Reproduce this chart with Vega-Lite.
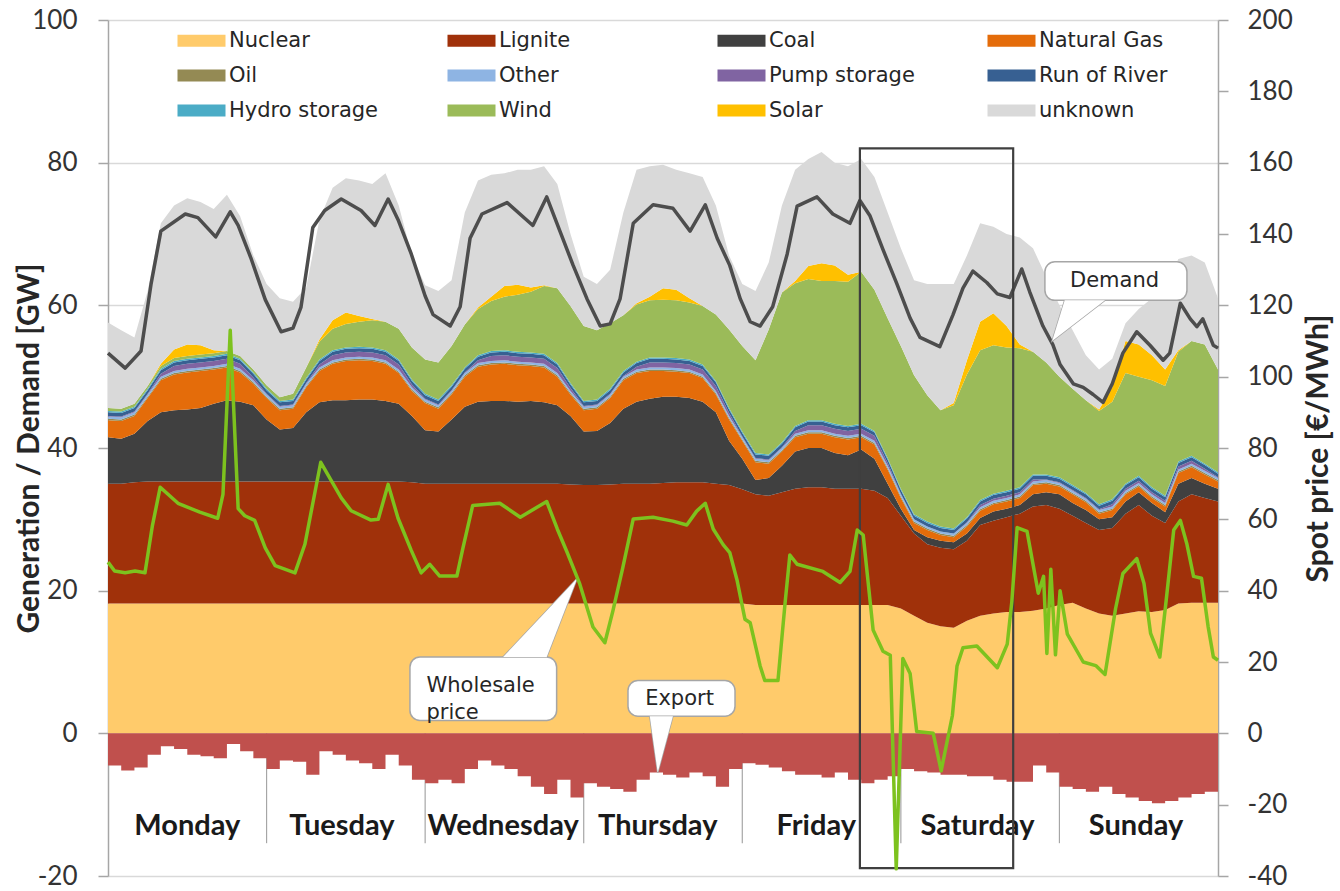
{
  "$schema": "https://vega.github.io/schema/vega-lite/v6.json",
  "width": 1110,
  "height": 856,
  "autosize": {"type": "none"},
  "padding": {"left": 108, "top": 20, "right": 122, "bottom": 15},
  "background": "#ffffff",
  "config": {"view": {"stroke": null}},
  "datasets": {
    "ranks": [
      {"key": "Nuclear", "rank": 1}, {"key": "Lignite", "rank": 2}, {"key": "Coal", "rank": 3},
      {"key": "Natural Gas", "rank": 4}, {"key": "Oil", "rank": 5}, {"key": "Other", "rank": 6},
      {"key": "Pump storage", "rank": 7}, {"key": "Run of River", "rank": 8}, {"key": "Hydro storage", "rank": 9},
      {"key": "Wind", "rank": 10}, {"key": "Solar", "rank": 11}, {"key": "unknown", "rank": 12}
    ],
    "gen": [
      {"h":0,"Nuclear":18.2,"Lignite":16.8,"Coal":6.5,"Natural Gas":2.4,"Oil":0.2,"Other":0.3,"Pump storage":0.1,"Run of River":0.5,"Hydro storage":0.2,"Wind":0.4,"Solar":0,"unknown":12.0,"export":-4.5},
      {"h":2,"Nuclear":18.2,"Lignite":16.8,"Coal":6.3,"Natural Gas":2.5,"Oil":0.2,"Other":0.3,"Pump storage":0.1,"Run of River":0.5,"Hydro storage":0.2,"Wind":0.4,"Solar":0,"unknown":11.0,"export":-5.2},
      {"h":4,"Nuclear":18.2,"Lignite":17.0,"Coal":6.8,"Natural Gas":2.5,"Oil":0.2,"Other":0.3,"Pump storage":0.1,"Run of River":0.5,"Hydro storage":0.2,"Wind":0.4,"Solar":0,"unknown":9.3,"export":-4.8},
      {"h":6,"Nuclear":18.2,"Lignite":17.1,"Coal":8.5,"Natural Gas":3.2,"Oil":0.2,"Other":0.3,"Pump storage":0.1,"Run of River":0.5,"Hydro storage":0.2,"Wind":0.4,"Solar":0,"unknown":13.3,"export":-3.0},
      {"h":8,"Nuclear":18.2,"Lignite":17.1,"Coal":9.7,"Natural Gas":4.5,"Oil":0.2,"Other":0.3,"Pump storage":0.4,"Run of River":0.5,"Hydro storage":0.2,"Wind":0.4,"Solar":0.3,"unknown":19.7,"export":-1.8},
      {"h":10,"Nuclear":18.2,"Lignite":17.1,"Coal":10.0,"Natural Gas":5.0,"Oil":0.2,"Other":0.3,"Pump storage":0.7,"Run of River":0.5,"Hydro storage":0.2,"Wind":0.4,"Solar":1.2,"unknown":20.2,"export":-2.2},
      {"h":12,"Nuclear":18.2,"Lignite":17.1,"Coal":10.1,"Natural Gas":5.2,"Oil":0.2,"Other":0.3,"Pump storage":0.7,"Run of River":0.5,"Hydro storage":0.2,"Wind":0.4,"Solar":1.6,"unknown":20.5,"export":-3.0},
      {"h":14,"Nuclear":18.2,"Lignite":17.1,"Coal":10.3,"Natural Gas":5.2,"Oil":0.2,"Other":0.3,"Pump storage":0.7,"Run of River":0.5,"Hydro storage":0.2,"Wind":0.4,"Solar":1.3,"unknown":20.1,"export":-3.2},
      {"h":16,"Nuclear":18.2,"Lignite":17.1,"Coal":10.9,"Natural Gas":4.8,"Oil":0.2,"Other":0.3,"Pump storage":0.7,"Run of River":0.5,"Hydro storage":0.2,"Wind":0.4,"Solar":0.4,"unknown":19.8,"export":-3.5},
      {"h":18,"Nuclear":18.2,"Lignite":17.1,"Coal":11.4,"Natural Gas":4.6,"Oil":0.2,"Other":0.3,"Pump storage":0.7,"Run of River":0.5,"Hydro storage":0.2,"Wind":0.4,"Solar":0,"unknown":21.9,"export":-1.5},
      {"h":20,"Nuclear":18.2,"Lignite":17.1,"Coal":11.2,"Natural Gas":4.1,"Oil":0.2,"Other":0.3,"Pump storage":0.7,"Run of River":0.5,"Hydro storage":0.2,"Wind":0.4,"Solar":0,"unknown":19.6,"export":-2.5},
      {"h":22,"Nuclear":18.2,"Lignite":17.1,"Coal":10.7,"Natural Gas":3.0,"Oil":0.2,"Other":0.3,"Pump storage":0.4,"Run of River":0.5,"Hydro storage":0.2,"Wind":0.4,"Solar":0,"unknown":16.0,"export":-3.5},
      {"h":24,"Nuclear":18.2,"Lignite":17.1,"Coal":8.7,"Natural Gas":3.0,"Oil":0.2,"Other":0.3,"Pump storage":0.1,"Run of River":0.5,"Hydro storage":0.2,"Wind":0.5,"Solar":0,"unknown":14.2,"export":-5.0},
      {"h":26,"Nuclear":18.2,"Lignite":17.1,"Coal":7.3,"Natural Gas":2.7,"Oil":0.2,"Other":0.3,"Pump storage":0.1,"Run of River":0.5,"Hydro storage":0.2,"Wind":0.5,"Solar":0,"unknown":13.9,"export":-3.8},
      {"h":28,"Nuclear":18.2,"Lignite":17.1,"Coal":7.5,"Natural Gas":2.7,"Oil":0.2,"Other":0.3,"Pump storage":0.1,"Run of River":0.5,"Hydro storage":0.2,"Wind":0.8,"Solar":0,"unknown":12.9,"export":-4.0},
      {"h":30,"Nuclear":18.2,"Lignite":17.1,"Coal":9.7,"Natural Gas":3.5,"Oil":0.2,"Other":0.3,"Pump storage":0.1,"Run of River":0.5,"Hydro storage":0.2,"Wind":1.5,"Solar":0,"unknown":11.2,"export":-5.8},
      {"h":32,"Nuclear":18.2,"Lignite":17.1,"Coal":11.1,"Natural Gas":4.4,"Oil":0.2,"Other":0.3,"Pump storage":0.4,"Run of River":0.5,"Hydro storage":0.2,"Wind":2.5,"Solar":0.3,"unknown":16.8,"export":-2.5},
      {"h":34,"Nuclear":18.2,"Lignite":17.1,"Coal":11.4,"Natural Gas":5.1,"Oil":0.2,"Other":0.3,"Pump storage":0.7,"Run of River":0.5,"Hydro storage":0.2,"Wind":3.0,"Solar":1.2,"unknown":18.6,"export":-3.0},
      {"h":36,"Nuclear":18.2,"Lignite":17.1,"Coal":11.4,"Natural Gas":5.5,"Oil":0.2,"Other":0.3,"Pump storage":0.7,"Run of River":0.5,"Hydro storage":0.2,"Wind":3.3,"Solar":1.6,"unknown":18.8,"export":-3.8},
      {"h":38,"Nuclear":18.2,"Lignite":17.1,"Coal":11.5,"Natural Gas":5.5,"Oil":0.2,"Other":0.3,"Pump storage":0.7,"Run of River":0.5,"Hydro storage":0.2,"Wind":3.5,"Solar":0.8,"unknown":19.0,"export":-4.2},
      {"h":40,"Nuclear":18.2,"Lignite":17.1,"Coal":11.5,"Natural Gas":5.4,"Oil":0.2,"Other":0.3,"Pump storage":0.7,"Run of River":0.5,"Hydro storage":0.2,"Wind":3.8,"Solar":0.2,"unknown":18.9,"export":-5.0},
      {"h":42,"Nuclear":18.2,"Lignite":17.1,"Coal":11.3,"Natural Gas":5.2,"Oil":0.2,"Other":0.3,"Pump storage":0.7,"Run of River":0.5,"Hydro storage":0.2,"Wind":4.0,"Solar":0,"unknown":20.8,"export":-3.0},
      {"h":44,"Nuclear":18.2,"Lignite":17.1,"Coal":10.9,"Natural Gas":4.3,"Oil":0.2,"Other":0.3,"Pump storage":0.7,"Run of River":0.5,"Hydro storage":0.2,"Wind":4.3,"Solar":0,"unknown":17.3,"export":-4.5},
      {"h":46,"Nuclear":18.2,"Lignite":17.0,"Coal":9.3,"Natural Gas":3.5,"Oil":0.2,"Other":0.3,"Pump storage":0.4,"Run of River":0.5,"Hydro storage":0.2,"Wind":4.5,"Solar":0,"unknown":12.9,"export":-6.5},
      {"h":48,"Nuclear":18.2,"Lignite":16.8,"Coal":7.5,"Natural Gas":3.8,"Oil":0.2,"Other":0.3,"Pump storage":0.1,"Run of River":0.5,"Hydro storage":0.2,"Wind":4.8,"Solar":0,"unknown":10.4,"export":-7.0},
      {"h":50,"Nuclear":18.2,"Lignite":16.8,"Coal":7.3,"Natural Gas":3.2,"Oil":0.2,"Other":0.3,"Pump storage":0.1,"Run of River":0.5,"Hydro storage":0.2,"Wind":5.2,"Solar":0,"unknown":10.0,"export":-6.5},
      {"h":52,"Nuclear":18.2,"Lignite":16.8,"Coal":9.0,"Natural Gas":3.5,"Oil":0.2,"Other":0.3,"Pump storage":0.1,"Run of River":0.5,"Hydro storage":0.2,"Wind":5.5,"Solar":0,"unknown":9.2,"export":-7.0},
      {"h":54,"Nuclear":18.2,"Lignite":16.8,"Coal":10.8,"Natural Gas":4.2,"Oil":0.2,"Other":0.3,"Pump storage":0.1,"Run of River":0.5,"Hydro storage":0.2,"Wind":6.0,"Solar":0,"unknown":15.7,"export":-5.0},
      {"h":56,"Nuclear":18.2,"Lignite":16.8,"Coal":11.5,"Natural Gas":4.9,"Oil":0.2,"Other":0.3,"Pump storage":0.4,"Run of River":0.5,"Hydro storage":0.2,"Wind":6.5,"Solar":0.2,"unknown":17.8,"export":-3.8},
      {"h":58,"Nuclear":18.2,"Lignite":16.8,"Coal":11.6,"Natural Gas":5.1,"Oil":0.2,"Other":0.3,"Pump storage":0.7,"Run of River":0.5,"Hydro storage":0.2,"Wind":7.0,"Solar":0.6,"unknown":17.1,"export":-4.5},
      {"h":60,"Nuclear":18.2,"Lignite":16.8,"Coal":11.6,"Natural Gas":5.2,"Oil":0.2,"Other":0.3,"Pump storage":0.7,"Run of River":0.5,"Hydro storage":0.2,"Wind":7.5,"Solar":1.5,"unknown":15.8,"export":-5.0},
      {"h":62,"Nuclear":18.2,"Lignite":16.8,"Coal":11.5,"Natural Gas":5.1,"Oil":0.2,"Other":0.3,"Pump storage":0.7,"Run of River":0.5,"Hydro storage":0.2,"Wind":8.0,"Solar":1.4,"unknown":16.1,"export":-6.0},
      {"h":64,"Nuclear":18.2,"Lignite":16.8,"Coal":11.6,"Natural Gas":4.9,"Oil":0.2,"Other":0.3,"Pump storage":0.7,"Run of River":0.5,"Hydro storage":0.2,"Wind":8.5,"Solar":0.6,"unknown":16.5,"export":-7.5},
      {"h":66,"Nuclear":18.2,"Lignite":16.8,"Coal":11.4,"Natural Gas":4.9,"Oil":0.2,"Other":0.3,"Pump storage":0.7,"Run of River":0.5,"Hydro storage":0.2,"Wind":9.5,"Solar":0.1,"unknown":16.7,"export":-8.5},
      {"h":68,"Nuclear":18.2,"Lignite":16.8,"Coal":11.0,"Natural Gas":4.0,"Oil":0.2,"Other":0.3,"Pump storage":0.7,"Run of River":0.5,"Hydro storage":0.2,"Wind":10.5,"Solar":0,"unknown":14.6,"export":-6.5},
      {"h":70,"Nuclear":18.2,"Lignite":16.7,"Coal":9.6,"Natural Gas":3.0,"Oil":0.2,"Other":0.3,"Pump storage":0.4,"Run of River":0.5,"Hydro storage":0.2,"Wind":10.8,"Solar":0,"unknown":10.1,"export":-9.0},
      {"h":72,"Nuclear":18.2,"Lignite":16.6,"Coal":7.5,"Natural Gas":3.0,"Oil":0.2,"Other":0.3,"Pump storage":0.1,"Run of River":0.5,"Hydro storage":0.2,"Wind":10.5,"Solar":0,"unknown":6.9,"export":-7.0},
      {"h":74,"Nuclear":18.2,"Lignite":16.6,"Coal":7.6,"Natural Gas":3.1,"Oil":0.2,"Other":0.3,"Pump storage":0.1,"Run of River":0.5,"Hydro storage":0.2,"Wind":9.7,"Solar":0,"unknown":6.5,"export":-7.5},
      {"h":76,"Nuclear":18.2,"Lignite":16.7,"Coal":8.6,"Natural Gas":3.5,"Oil":0.2,"Other":0.3,"Pump storage":0.1,"Run of River":0.5,"Hydro storage":0.2,"Wind":9.2,"Solar":0,"unknown":7.5,"export":-7.8},
      {"h":78,"Nuclear":18.2,"Lignite":16.8,"Coal":10.5,"Natural Gas":4.0,"Oil":0.2,"Other":0.3,"Pump storage":0.1,"Run of River":0.5,"Hydro storage":0.2,"Wind":7.8,"Solar":0,"unknown":14.4,"export":-8.2},
      {"h":80,"Nuclear":18.2,"Lignite":16.8,"Coal":11.5,"Natural Gas":4.0,"Oil":0.2,"Other":0.3,"Pump storage":0.4,"Run of River":0.5,"Hydro storage":0.2,"Wind":8.0,"Solar":0.2,"unknown":18.7,"export":-6.5},
      {"h":82,"Nuclear":18.2,"Lignite":16.8,"Coal":11.9,"Natural Gas":3.9,"Oil":0.2,"Other":0.3,"Pump storage":0.7,"Run of River":0.5,"Hydro storage":0.2,"Wind":8.0,"Solar":0.5,"unknown":18.3,"export":-5.5},
      {"h":84,"Nuclear":18.2,"Lignite":16.9,"Coal":12.1,"Natural Gas":3.6,"Oil":0.2,"Other":0.3,"Pump storage":0.7,"Run of River":0.5,"Hydro storage":0.2,"Wind":8.1,"Solar":1.6,"unknown":17.3,"export":-5.8},
      {"h":86,"Nuclear":18.2,"Lignite":17.0,"Coal":12.0,"Natural Gas":3.5,"Oil":0.2,"Other":0.3,"Pump storage":0.7,"Run of River":0.5,"Hydro storage":0.2,"Wind":8.1,"Solar":1.5,"unknown":16.8,"export":-6.2},
      {"h":88,"Nuclear":18.2,"Lignite":17.0,"Coal":11.8,"Natural Gas":3.5,"Oil":0.2,"Other":0.3,"Pump storage":0.7,"Run of River":0.5,"Hydro storage":0.2,"Wind":8.0,"Solar":0.6,"unknown":17.5,"export":-5.5},
      {"h":90,"Nuclear":18.2,"Lignite":17.0,"Coal":11.3,"Natural Gas":3.3,"Oil":0.2,"Other":0.3,"Pump storage":0.7,"Run of River":0.5,"Hydro storage":0.2,"Wind":8.2,"Solar":0,"unknown":18.1,"export":-6.0},
      {"h":92,"Nuclear":18.2,"Lignite":16.8,"Coal":10.0,"Natural Gas":2.5,"Oil":0.2,"Other":0.3,"Pump storage":0.7,"Run of River":0.5,"Hydro storage":0.2,"Wind":9.3,"Solar":0,"unknown":15.3,"export":-7.5},
      {"h":94,"Nuclear":18.2,"Lignite":16.6,"Coal":6.2,"Natural Gas":3.0,"Oil":0.2,"Other":0.3,"Pump storage":0.4,"Run of River":0.5,"Hydro storage":0.2,"Wind":11.0,"Solar":0,"unknown":10.4,"export":-5.0},
      {"h":96,"Nuclear":18.2,"Lignite":16.0,"Coal":4.3,"Natural Gas":2.5,"Oil":0.2,"Other":0.3,"Pump storage":0.1,"Run of River":0.5,"Hydro storage":0.2,"Wind":12.0,"Solar":0,"unknown":8.7,"export":-4.2},
      {"h":98,"Nuclear":18.0,"Lignite":15.5,"Coal":2.0,"Natural Gas":2.5,"Oil":0.2,"Other":0.3,"Pump storage":0.1,"Run of River":0.5,"Hydro storage":0.2,"Wind":13.0,"Solar":0,"unknown":9.7,"export":-4.4},
      {"h":100,"Nuclear":18.0,"Lignite":15.3,"Coal":2.5,"Natural Gas":2.0,"Oil":0.2,"Other":0.3,"Pump storage":0.1,"Run of River":0.5,"Hydro storage":0.2,"Wind":17.5,"Solar":0,"unknown":9.4,"export":-4.8},
      {"h":102,"Nuclear":18.0,"Lignite":15.8,"Coal":3.7,"Natural Gas":2.0,"Oil":0.2,"Other":0.3,"Pump storage":0.1,"Run of River":0.5,"Hydro storage":0.2,"Wind":21.0,"Solar":0,"unknown":12.2,"export":-5.3},
      {"h":104,"Nuclear":18.0,"Lignite":16.3,"Coal":5.2,"Natural Gas":2.0,"Oil":0.2,"Other":0.3,"Pump storage":0.4,"Run of River":0.5,"Hydro storage":0.2,"Wind":20.0,"Solar":0.3,"unknown":15.6,"export":-5.8},
      {"h":106,"Nuclear":18.0,"Lignite":16.5,"Coal":5.5,"Natural Gas":2.0,"Oil":0.2,"Other":0.3,"Pump storage":0.7,"Run of River":0.5,"Hydro storage":0.2,"Wind":19.8,"Solar":1.8,"unknown":15.0,"export":-5.8},
      {"h":108,"Nuclear":18.0,"Lignite":16.5,"Coal":5.5,"Natural Gas":2.0,"Oil":0.2,"Other":0.3,"Pump storage":0.7,"Run of River":0.5,"Hydro storage":0.2,"Wind":19.5,"Solar":2.5,"unknown":15.6,"export":-6.2},
      {"h":110,"Nuclear":18.0,"Lignite":16.3,"Coal":5.0,"Natural Gas":2.2,"Oil":0.2,"Other":0.3,"Pump storage":0.7,"Run of River":0.5,"Hydro storage":0.2,"Wind":20.0,"Solar":2.2,"unknown":14.4,"export":-5.5},
      {"h":112,"Nuclear":18.0,"Lignite":16.3,"Coal":4.7,"Natural Gas":2.2,"Oil":0.2,"Other":0.3,"Pump storage":0.7,"Run of River":0.5,"Hydro storage":0.2,"Wind":20.2,"Solar":1.0,"unknown":15.2,"export":-6.5},
      {"h":114,"Nuclear":18.0,"Lignite":16.3,"Coal":5.5,"Natural Gas":1.7,"Oil":0.2,"Other":0.3,"Pump storage":0.7,"Run of River":0.5,"Hydro storage":0.2,"Wind":21.3,"Solar":0,"unknown":15.8,"export":-7.0},
      {"h":116,"Nuclear":18.0,"Lignite":16.0,"Coal":4.5,"Natural Gas":2.0,"Oil":0.2,"Other":0.3,"Pump storage":0.7,"Run of River":0.5,"Hydro storage":0.2,"Wind":19.8,"Solar":0,"unknown":15.8,"export":-6.5},
      {"h":118,"Nuclear":18.0,"Lignite":15.0,"Coal":2.0,"Natural Gas":2.0,"Oil":0.2,"Other":0.3,"Pump storage":0.4,"Run of River":0.5,"Hydro storage":0.2,"Wind":19.6,"Solar":0,"unknown":14.8,"export":-6.0},
      {"h":120,"Nuclear":17.5,"Lignite":13.0,"Coal":1.0,"Natural Gas":1.5,"Oil":0.2,"Other":0.3,"Pump storage":0.1,"Run of River":0.5,"Hydro storage":0.2,"Wind":20.0,"Solar":0,"unknown":13.7,"export":-5.0},
      {"h":122,"Nuclear":16.5,"Lignite":11.5,"Coal":0.5,"Natural Gas":1.0,"Oil":0.2,"Other":0.3,"Pump storage":0.0,"Run of River":0.5,"Hydro storage":0.2,"Wind":19.5,"Solar":0,"unknown":13.3,"export":-5.3},
      {"h":124,"Nuclear":15.5,"Lignite":11.0,"Coal":1.0,"Natural Gas":1.0,"Oil":0.2,"Other":0.3,"Pump storage":0.0,"Run of River":0.5,"Hydro storage":0.2,"Wind":17.7,"Solar":0,"unknown":15.6,"export":-5.5},
      {"h":126,"Nuclear":15.0,"Lignite":11.0,"Coal":1.0,"Natural Gas":0.8,"Oil":0.2,"Other":0.3,"Pump storage":0.0,"Run of River":0.5,"Hydro storage":0.2,"Wind":16.3,"Solar":0,"unknown":17.7,"export":-5.8},
      {"h":128,"Nuclear":14.8,"Lignite":11.0,"Coal":1.0,"Natural Gas":0.7,"Oil":0.2,"Other":0.3,"Pump storage":0.0,"Run of River":0.5,"Hydro storage":0.2,"Wind":17.3,"Solar":0.3,"unknown":16.7,"export":-5.8},
      {"h":130,"Nuclear":15.8,"Lignite":11.2,"Coal":1.0,"Natural Gas":1.0,"Oil":0.2,"Other":0.3,"Pump storage":0.1,"Run of River":0.5,"Hydro storage":0.2,"Wind":20.0,"Solar":2.0,"unknown":14.7,"export":-6.0},
      {"h":132,"Nuclear":16.5,"Lignite":12.7,"Coal":1.0,"Natural Gas":1.0,"Oil":0.2,"Other":0.3,"Pump storage":0.3,"Run of River":0.5,"Hydro storage":0.2,"Wind":21.0,"Solar":4.0,"unknown":13.8,"export":-6.0},
      {"h":134,"Nuclear":16.8,"Lignite":13.0,"Coal":1.3,"Natural Gas":1.0,"Oil":0.2,"Other":0.3,"Pump storage":0.3,"Run of River":0.5,"Hydro storage":0.2,"Wind":20.8,"Solar":4.5,"unknown":12.1,"export":-6.5},
      {"h":136,"Nuclear":17.0,"Lignite":13.3,"Coal":1.2,"Natural Gas":1.0,"Oil":0.2,"Other":0.3,"Pump storage":0.3,"Run of River":0.5,"Hydro storage":0.2,"Wind":20.1,"Solar":3.0,"unknown":12.9,"export":-6.8},
      {"h":138,"Nuclear":17.0,"Lignite":13.8,"Coal":1.2,"Natural Gas":1.0,"Oil":0.2,"Other":0.3,"Pump storage":0.3,"Run of River":0.5,"Hydro storage":0.2,"Wind":19.5,"Solar":0.5,"unknown":15.0,"export":-6.8},
      {"h":140,"Nuclear":17.2,"Lignite":14.6,"Coal":1.7,"Natural Gas":1.3,"Oil":0.2,"Other":0.3,"Pump storage":0.3,"Run of River":0.5,"Hydro storage":0.2,"Wind":17.2,"Solar":0,"unknown":14.5,"export":-4.5},
      {"h":142,"Nuclear":17.5,"Lignite":14.5,"Coal":1.8,"Natural Gas":1.2,"Oil":0.2,"Other":0.3,"Pump storage":0.1,"Run of River":0.5,"Hydro storage":0.2,"Wind":15.7,"Solar":0,"unknown":12.0,"export":-5.5},
      {"h":144,"Nuclear":18.0,"Lignite":13.5,"Coal":2.0,"Natural Gas":1.1,"Oil":0.2,"Other":0.3,"Pump storage":0.1,"Run of River":0.5,"Hydro storage":0.2,"Wind":14.1,"Solar":0,"unknown":10.0,"export":-7.5},
      {"h":146,"Nuclear":18.3,"Lignite":12.2,"Coal":1.8,"Natural Gas":1.2,"Oil":0.2,"Other":0.3,"Pump storage":0.1,"Run of River":0.5,"Hydro storage":0.2,"Wind":13.5,"Solar":0,"unknown":8.2,"export":-7.8},
      {"h":148,"Nuclear":17.5,"Lignite":12.0,"Coal":1.8,"Natural Gas":1.1,"Oil":0.2,"Other":0.3,"Pump storage":0.1,"Run of River":0.5,"Hydro storage":0.2,"Wind":13.0,"Solar":0,"unknown":6.3,"export":-8.2},
      {"h":150,"Nuclear":16.8,"Lignite":11.7,"Coal":1.5,"Natural Gas":0.8,"Oil":0.2,"Other":0.3,"Pump storage":0.1,"Run of River":0.5,"Hydro storage":0.2,"Wind":13.1,"Solar":0.2,"unknown":5.6,"export":-7.5},
      {"h":152,"Nuclear":16.5,"Lignite":12.3,"Coal":1.5,"Natural Gas":1.0,"Oil":0.2,"Other":0.3,"Pump storage":0.3,"Run of River":0.5,"Hydro storage":0.2,"Wind":13.7,"Solar":2.0,"unknown":4.0,"export":-8.5},
      {"h":154,"Nuclear":16.8,"Lignite":14.0,"Coal":1.7,"Natural Gas":1.0,"Oil":0.2,"Other":0.3,"Pump storage":0.3,"Run of River":0.5,"Hydro storage":0.2,"Wind":15.5,"Solar":4.5,"unknown":2.5,"export":-9.0},
      {"h":156,"Nuclear":17.1,"Lignite":14.9,"Coal":1.8,"Natural Gas":0.8,"Oil":0.2,"Other":0.3,"Pump storage":0.3,"Run of River":0.5,"Hydro storage":0.2,"Wind":13.9,"Solar":4.5,"unknown":5.0,"export":-9.5},
      {"h":158,"Nuclear":17.0,"Lignite":13.5,"Coal":1.8,"Natural Gas":0.7,"Oil":0.2,"Other":0.3,"Pump storage":0.3,"Run of River":0.5,"Hydro storage":0.2,"Wind":15.0,"Solar":3.5,"unknown":8.0,"export":-9.8},
      {"h":160,"Nuclear":17.3,"Lignite":12.2,"Coal":1.5,"Natural Gas":0.8,"Oil":0.2,"Other":0.3,"Pump storage":0.3,"Run of River":0.5,"Hydro storage":0.2,"Wind":15.4,"Solar":2.3,"unknown":11.5,"export":-9.5},
      {"h":162,"Nuclear":18.2,"Lignite":14.3,"Coal":2.5,"Natural Gas":1.5,"Oil":0.2,"Other":0.3,"Pump storage":0.4,"Run of River":0.5,"Hydro storage":0.2,"Wind":15.4,"Solar":0.2,"unknown":12.8,"export":-9.0},
      {"h":164,"Nuclear":18.3,"Lignite":15.2,"Coal":2.3,"Natural Gas":1.5,"Oil":0.2,"Other":0.3,"Pump storage":0.4,"Run of River":0.5,"Hydro storage":0.2,"Wind":16.1,"Solar":0,"unknown":12.0,"export":-8.5},
      {"h":166,"Nuclear":18.3,"Lignite":14.7,"Coal":2.0,"Natural Gas":1.3,"Oil":0.2,"Other":0.3,"Pump storage":0.3,"Run of River":0.5,"Hydro storage":0.2,"Wind":16.7,"Solar":0,"unknown":11.5,"export":-8.2},
      {"h":168,"Nuclear":18.3,"Lignite":14.2,"Coal":1.8,"Natural Gas":1.0,"Oil":0.2,"Other":0.3,"Pump storage":0.1,"Run of River":0.5,"Hydro storage":0.2,"Wind":14.4,"Solar":0,"unknown":10.0,"export":-8.0}
    ],
    "demand": [
      {"h":0,"d":53.3},{"h":2.6,"d":51.2},{"h":5.0,"d":53.6},{"h":6.5,"d":62.9},{"h":8.0,"d":70.4},{"h":11.7,"d":72.8},{"h":13.6,"d":72.3},{"h":16.3,"d":69.6},{"h":18.5,"d":73.1},{"h":19.7,"d":71.2},{"h":21.6,"d":66.7},{"h":23.8,"d":60.8},{"h":26.2,"d":56.3},{"h":28.0,"d":56.8},{"h":29.2,"d":59.7},{"h":31.0,"d":70.9},{"h":32.8,"d":73.3},{"h":35.3,"d":74.9},{"h":38.3,"d":73.3},{"h":40.4,"d":71.2},{"h":42.4,"d":74.9},{"h":43.9,"d":72},{"h":45.9,"d":67.2},{"h":48.0,"d":61.3},{"h":49.2,"d":58.7},{"h":51.8,"d":57.1},{"h":53.3,"d":59.8},{"h":54.8,"d":69.4},{"h":56.6,"d":72.8},{"h":60.4,"d":74.4},{"h":64.3,"d":71.2},{"h":66.4,"d":75.2},{"h":68.4,"d":70.4},{"h":70.4,"d":65.6},{"h":72.5,"d":60.9},{"h":74.5,"d":57.1},{"h":76.0,"d":57.4},{"h":77.5,"d":60.9},{"h":79.5,"d":71.5},{"h":82.5,"d":74.1},{"h":85.5,"d":73.6},{"h":88.1,"d":70.4},{"h":90.4,"d":74.1},{"h":92.2,"d":69.4},{"h":94.1,"d":65.6},{"h":95.7,"d":60.9},{"h":97.2,"d":57.7},{"h":98.7,"d":57.1},{"h":100.6,"d":59.8},{"h":102.8,"d":67.2},{"h":104.3,"d":73.9},{"h":107.3,"d":75.2},{"h":109.7,"d":72.8},{"h":112.3,"d":71.5},{"h":113.8,"d":74.7},{"h":115.3,"d":72.6},{"h":117.3,"d":67.8},{"h":119.4,"d":63},{"h":121.4,"d":58.2},{"h":122.9,"d":55.5},{"h":125.9,"d":54.2},{"h":127.9,"d":58.7},{"h":129.4,"d":62.4},{"h":130.9,"d":64.8},{"h":133.0,"d":63.2},{"h":134.6,"d":61.6},{"h":136.5,"d":61.1},{"h":138.3,"d":65.1},{"h":139.5,"d":61.9},{"h":141.5,"d":57.1},{"h":143.0,"d":54.5},{"h":144.1,"d":51.7},{"h":146.1,"d":49},{"h":147.6,"d":48.5},{"h":149.1,"d":47.5},{"h":150.6,"d":46.4},{"h":152.0,"d":49},{"h":153.6,"d":53.3},{"h":155.7,"d":56.3},{"h":157.7,"d":54.4},{"h":159.7,"d":52.3},{"h":160.7,"d":53.3},{"h":162.3,"d":60.3},{"h":163.8,"d":58.1},{"h":164.8,"d":57},{"h":165.7,"d":58.1},{"h":167.3,"d":54.4},{"h":168,"d":54}
    ],
    "price": [
      {"h":0,"p":48},{"h":1,"p":45.5},{"h":2.6,"p":45},{"h":4.1,"p":45.5},{"h":5.6,"p":45},{"h":6.7,"p":58},{"h":7.9,"p":69},{"h":10.6,"p":64.5},{"h":13.9,"p":62},{"h":16.6,"p":60.3},{"h":17.4,"p":67},{"h":18.5,"p":113},{"h":19.7,"p":63},{"h":20.7,"p":61},{"h":22.2,"p":59.7},{"h":23.8,"p":52},{"h":25.3,"p":47},{"h":28.3,"p":45},{"h":29.8,"p":53},{"h":32.2,"p":76},{"h":35.3,"p":66},{"h":36.8,"p":62.4},{"h":39.8,"p":59.8},{"h":40.9,"p":60},{"h":42.4,"p":69.8},{"h":43.9,"p":60.3},{"h":45.9,"p":51.3},{"h":47.4,"p":45},{"h":48.7,"p":47.4},{"h":50.2,"p":44.1},{"h":52.8,"p":44.1},{"h":53.7,"p":51.8},{"h":55.2,"p":63.9},{"h":59.3,"p":64.5},{"h":62.4,"p":60.6},{"h":66.4,"p":65},{"h":68,"p":57.3},{"h":69.5,"p":50.7},{"h":71.4,"p":41.9},{"h":73.4,"p":29.8},{"h":75.2,"p":25.4},{"h":76.4,"p":34.2},{"h":77.9,"p":46.3},{"h":79.5,"p":60.1},{"h":82.5,"p":60.6},{"h":85.5,"p":59.5},{"h":87.6,"p":58.4},{"h":89.1,"p":62.3},{"h":90.4,"p":64.5},{"h":91.6,"p":57.3},{"h":93.1,"p":52.9},{"h":94.1,"p":50.7},{"h":95.2,"p":43},{"h":96.4,"p":32},{"h":97.2,"p":31},{"h":98.7,"p":18.9},{"h":99.4,"p":14.8},{"h":101.4,"p":14.8},{"h":102.5,"p":37},{"h":103.2,"p":50},{"h":104.3,"p":47.4},{"h":108.2,"p":45.4},{"h":110.8,"p":42.3},{"h":112.3,"p":45.4},{"h":113.4,"p":57},{"h":114.3,"p":55.6},{"h":115.8,"p":29},{"h":117.3,"p":23},{"h":118.4,"p":21.9},{"h":119.3,"p":-38},{"h":120.3,"p":21},{"h":121.4,"p":16.8},{"h":122.4,"p":0.5},{"h":124.9,"p":0},{"h":126.1,"p":-10.5},{"h":127.8,"p":5},{"h":128.5,"p":18.9},{"h":129.4,"p":24},{"h":131.5,"p":24.5},{"h":134.6,"p":18.4},{"h":136.1,"p":25},{"h":136.8,"p":37},{"h":137.6,"p":57.7},{"h":139.1,"p":56.6},{"h":140.8,"p":39.3},{"h":141.6,"p":44},{"h":142.1,"p":22.4},{"h":142.7,"p":46},{"h":143.4,"p":22},{"h":144.1,"p":40},{"h":145.2,"p":27.8},{"h":147.6,"p":20},{"h":149.5,"p":19},{"h":150.9,"p":16.5},{"h":152.5,"p":35},{"h":153.6,"p":44.8},{"h":155.7,"p":49},{"h":156.8,"p":42},{"h":157.8,"p":28},{"h":159.2,"p":21.4},{"h":160.2,"p":38},{"h":161.3,"p":57},{"h":162.3,"p":59.7},{"h":163.3,"p":53},{"h":164.3,"p":44},{"h":165.5,"p":43.5},{"h":166.5,"p":30},{"h":167.3,"p":21.4},{"h":168,"p":20.5}
    ],
    "days": [
      {"day":"Monday","mid":12.0,"sep":0},{"day":"Tuesday","mid":35.4,"sep":24},{"day":"Wednesday","mid":59.8,"sep":48},{"day":"Thursday","mid":83.2,"sep":72},{"day":"Friday","mid":107.2,"sep":96},{"day":"Saturday","mid":131.6,"sep":120},{"day":"Sunday","mid":155.6,"sep":144}
    ],
    "callouts": [
      {"label":"Demand","h1":141.8,"h2":163.3,"v1":60.7,"v2":66.1,"th":145.6,"tv":63.4},
      {"label":"Wholesale\nprice","h1":45.7,"h2":67.9,"v1":1.8,"v2":10.7,"th":48.2,"tv":6.6},
      {"label":"Export","h1":78.7,"h2":94.9,"v1":2.4,"v2":7.4,"th":81.3,"tv":4.8}
    ],
    "pointers": [
      {"id":"d","v":60.7,"a":144.8,"b":150.9},{"id":"d","v":55.0,"a":142.9,"b":142.9},
      {"id":"w","v":10.7,"a":59.8,"b":66.4},{"id":"w","v":21.7,"a":71.0,"b":71.0},
      {"id":"e","v":2.4,"a":82.0,"b":85.5},{"id":"e","v":-5.5,"a":83.2,"b":83.2}
    ],
    "frame": [{"h1":113.8,"h2":137.0,"v1":-18.9,"v2":82.0}]
  },
  "layer": [
    {
      "layer": [
        {
          "data": {"name": "gen"},
          "transform": [
            {"fold": ["Nuclear","Lignite","Coal","Natural Gas","Oil","Other","Pump storage","Run of River","Hydro storage","Wind","Solar","unknown"], "as": ["key","value"]},
            {"lookup": "key", "from": {"data": {"name": "ranks"}, "key": "key", "fields": ["rank"]}}
          ],
          "mark": {"type": "area", "opacity": 1, "interpolate": "linear"},
          "encoding": {
            "x": {"field": "h", "type": "quantitative", "scale": {"domain": [0,168], "nice": false, "zero": false}, "axis": null},
            "y": {"field": "value", "type": "quantitative", "stack": "zero",
              "scale": {"domain": [-20,100], "nice": false, "zero": true},
              "axis": {
                "orient": "left",
                "title": "Generation / Demand [GW]",
                "values": [-20,0,20,40,60,80,100],
                "labelExpr": "'' + datum.value",
                "grid": true, "gridColor": "#D9D9D9", "gridWidth": 1.5,
                "domainColor": "#A6A6A6", "domainWidth": 1.5,
                "tickColor": "#A6A6A6", "tickSize": 10, "tickWidth": 1.5,
                "labelFont": "Lato", "labelFontSize": 26, "labelColor": "#333333", "labelPadding": 21,
                "titleFont": "Lato", "titleFontSize": 30, "titleFontWeight": "bold", "titleColor": "#262626",
                "titleAngle": 270, "titleX": -79, "titleY": 428, "titleAlign": "center", "titleBaseline": "middle"
              }
            },
            "color": {"field": "key", "type": "nominal",
              "scale": {
                "domain": ["Nuclear","Lignite","Coal","Natural Gas","Oil","Other","Pump storage","Run of River","Hydro storage","Wind","Solar","unknown"],
                "range": ["#FFCB6B","#A0310A","#404040","#E46C0A","#948A54","#8EB4E3","#8064A2","#376092","#4BACC6","#9BBB59","#FFC000","#D9D9D9"]
              },
              "legend": {
                "orient": "none", "legendX": 65, "legendY": 10, "title": null, "direction": "horizontal",
                "columns": 4, "columnPadding": 64, "rowPadding": 13, "gridAlign": "all",
                "symbolType": "M-1,-1H7V1H-1Z", "symbolSize": 144, "symbolStrokeWidth": 0, "symbolOpacity": 1,
                "labelOffset": 35, "labelFont": "DejaVu Sans", "labelFontSize": 21, "labelColor": "#262626", "labelLimit": 300
              }
            },
            "order": {"field": "rank", "type": "quantitative"}
          }
        },
        {
          "data": {"name": "days"},
          "transform": [{"filter": "datum.sep > 0"}],
          "mark": {"type": "rule", "color": "#A6A6A6", "strokeWidth": 1.2},
          "encoding": {
            "x": {"field": "sep", "type": "quantitative", "scale": {"domain": [0,168], "nice": false, "zero": false}, "axis": null},
            "y": {"datum": 0, "type": "quantitative", "scale": {"domain": [-20,100], "nice": false, "zero": true}, "axis": {"title": "Generation / Demand [GW]"}},
            "y2": {"datum": -15.4}
          }
        },
        {
          "data": {"name": "gen"},
          "mark": {"type": "area", "interpolate": "step-after", "color": "#C0504D", "opacity": 1},
          "encoding": {
            "x": {"field": "h", "type": "quantitative", "scale": {"domain": [0,168], "nice": false, "zero": false}, "axis": null},
            "y": {"field": "export", "type": "quantitative", "scale": {"domain": [-20,100], "nice": false, "zero": true}, "axis": {"title": "Generation / Demand [GW]"}},
            "y2": {"datum": 0}
          }
        },
        {
          "data": {"name": "demand"},
          "mark": {"type": "line", "color": "#4D4D4D", "strokeWidth": 3.5, "strokeJoin": "round"},
          "encoding": {
            "x": {"field": "h", "type": "quantitative", "scale": {"domain": [0,168], "nice": false, "zero": false}, "axis": null},
            "y": {"field": "d", "type": "quantitative", "scale": {"domain": [-20,100], "nice": false, "zero": true}, "axis": {"title": "Generation / Demand [GW]"}}
          }
        },
        {
          "data": {"name": "days"},
          "mark": {"type": "text", "font": "Lato", "fontSize": 29, "fontWeight": "bold", "color": "#1A1A1A", "align": "center", "baseline": "middle"},
          "encoding": {
            "x": {"field": "mid", "type": "quantitative", "scale": {"domain": [0,168], "nice": false, "zero": false}, "axis": null},
            "y": {"datum": -13, "type": "quantitative", "scale": {"domain": [-20,100], "nice": false, "zero": true}, "axis": {"title": "Generation / Demand [GW]"}},
            "text": {"field": "day"}
          }
        },
        {
          "data": {"name": "pointers"},
          "mark": {"type": "area", "orient": "horizontal", "fill": "#FFFFFF", "stroke": "#A6A6A6", "strokeWidth": 1.5, "opacity": 1},
          "encoding": {
            "y": {"field": "v", "type": "quantitative", "scale": {"domain": [-20,100], "nice": false, "zero": true}, "axis": {"title": "Generation / Demand [GW]"}},
            "x": {"field": "a", "type": "quantitative", "scale": {"domain": [0,168], "nice": false, "zero": false}, "axis": null},
            "x2": {"field": "b"},
            "detail": {"field": "id"}
          }
        },
        {
          "data": {"name": "callouts"},
          "mark": {"type": "rect", "fill": "#FFFFFF", "stroke": "#A6A6A6", "strokeWidth": 1.5, "cornerRadius": 10, "opacity": 1},
          "encoding": {
            "x": {"field": "h1", "type": "quantitative", "scale": {"domain": [0,168], "nice": false, "zero": false}, "axis": null},
            "x2": {"field": "h2"},
            "y": {"field": "v1", "type": "quantitative", "scale": {"domain": [-20,100], "nice": false, "zero": true}, "axis": {"title": "Generation / Demand [GW]"}},
            "y2": {"field": "v2"}
          }
        },
        {
          "data": {"name": "pointers"},
          "mark": {"type": "area", "orient": "horizontal", "fill": "#FFFFFF", "opacity": 1},
          "encoding": {
            "y": {"field": "v", "type": "quantitative", "scale": {"domain": [-20,100], "nice": false, "zero": true}, "axis": {"title": "Generation / Demand [GW]"}},
            "x": {"field": "a", "type": "quantitative", "scale": {"domain": [0,168], "nice": false, "zero": false}, "axis": null},
            "x2": {"field": "b"},
            "detail": {"field": "id"}
          }
        },
        {
          "data": {"name": "callouts"},
          "mark": {"type": "text", "font": "DejaVu Sans", "fontSize": 21, "color": "#262626", "align": "left", "baseline": "middle", "lineBreak": "\n", "lineHeight": 27},
          "encoding": {
            "x": {"field": "th", "type": "quantitative", "scale": {"domain": [0,168], "nice": false, "zero": false}, "axis": null},
            "y": {"field": "tv", "type": "quantitative", "scale": {"domain": [-20,100], "nice": false, "zero": true}, "axis": {"title": "Generation / Demand [GW]"}},
            "text": {"field": "label"}
          }
        },
        {
          "data": {"name": "frame"},
          "mark": {"type": "rect", "fill": "#FFFFFF", "fillOpacity": 0, "stroke": "#3F3F3F", "strokeWidth": 2.2},
          "encoding": {
            "x": {"field": "h1", "type": "quantitative", "scale": {"domain": [0,168], "nice": false, "zero": false}, "axis": null},
            "x2": {"field": "h2"},
            "y": {"field": "v1", "type": "quantitative", "scale": {"domain": [-20,100], "nice": false, "zero": true}, "axis": {"title": "Generation / Demand [GW]"}},
            "y2": {"field": "v2"}
          }
        }
      ]
    },
    {
      "data": {"name": "price"},
      "mark": {"type": "line", "color": "#7DC21E", "strokeWidth": 3.5, "strokeJoin": "round"},
      "encoding": {
        "x": {"field": "h", "type": "quantitative", "scale": {"domain": [0,168], "nice": false, "zero": false}, "axis": null},
        "y": {"field": "p", "type": "quantitative",
          "scale": {"domain": [-40,200], "nice": false, "zero": false},
          "axis": {
            "orient": "right",
            "title": "Spot price [€/MWh]",
            "values": [-40,-20,0,20,40,60,80,100,120,140,160,180,200],
            "labelExpr": "'' + datum.value",
            "grid": false,
            "domainColor": "#A6A6A6", "domainWidth": 1.5,
            "tickColor": "#A6A6A6", "tickSize": 10, "tickWidth": 1.5,
            "labelFont": "Lato", "labelFontSize": 26, "labelColor": "#333333", "labelPadding": 19,
            "titleFont": "Lato", "titleFontSize": 30, "titleFontWeight": "bold", "titleColor": "#262626",
            "titleAngle": 270, "titleX": 100, "titleY": 428, "titleAlign": "center", "titleBaseline": "middle"
          }
        }
      }
    }
  ],
  "resolve": {"scale": {"y": "independent"}}
}
